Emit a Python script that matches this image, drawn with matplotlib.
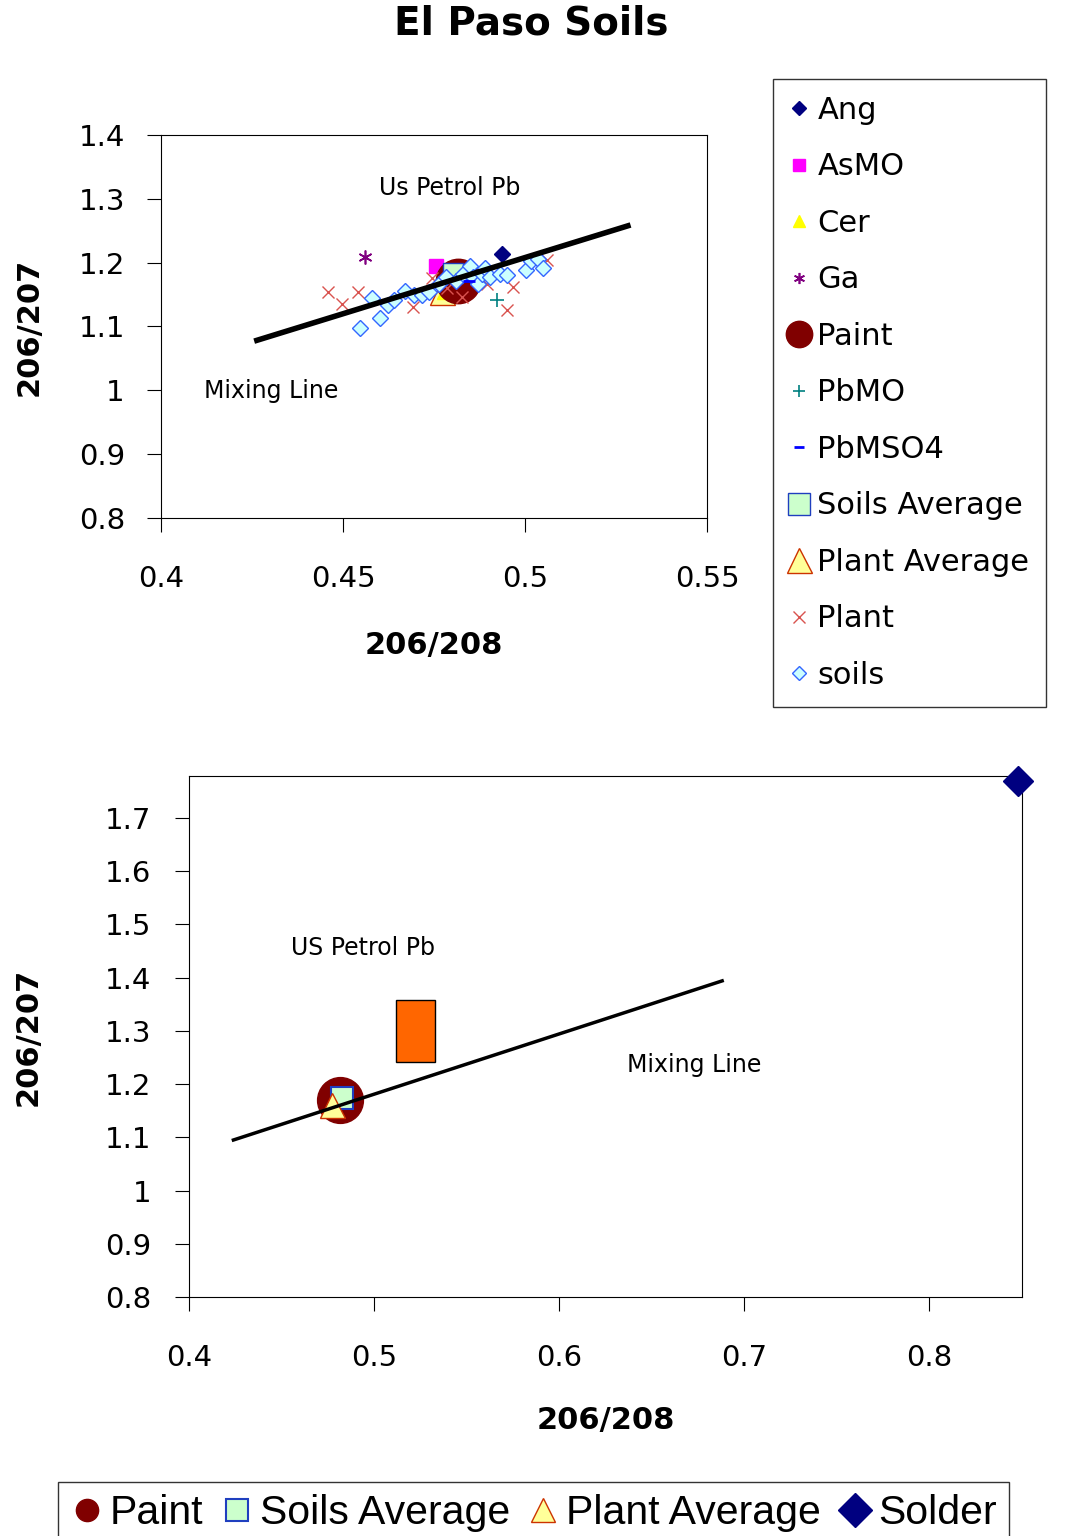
import matplotlib
matplotlib.use("Agg")
from matplotlib import pyplot as plt
from matplotlib.patches import Rectangle

plt.rcParams["font.family"] = ["DejaVu Sans"]

# ---- top chart data (206/208, 206/207) ----
soils_x = [0.4547, 0.458, 0.4603, 0.4623, 0.4639, 0.467, 0.4696, 0.4716, 0.4736,
           0.4763, 0.4783, 0.481, 0.483, 0.485, 0.4856, 0.487, 0.4883, 0.489,
           0.4903, 0.493, 0.495, 0.5003, 0.5016, 0.5036, 0.505]
soils_y = [1.098, 1.144, 1.113, 1.134, 1.141, 1.155, 1.149, 1.149, 1.154,
           1.166, 1.177, 1.171, 1.183, 1.194, 1.177, 1.166, 1.183, 1.191,
           1.177, 1.183, 1.180, 1.189, 1.203, 1.206, 1.191]
plant_x = [0.4459, 0.4497, 0.4541, 0.4692, 0.4745, 0.4827, 0.4785, 0.4967,
           0.4951, 0.506, 0.4896]
plant_y = [1.154, 1.135, 1.154, 1.130, 1.176, 1.146, 1.160, 1.162,
           1.126, 1.204, 1.166]
ang_x, ang_y = [0.4936], [1.214]
asmo_x, asmo_y = [0.4756], [1.194]
cer_x, cer_y = [0.4775], [1.152]
ga_x, ga_y = [0.456], [1.209]
paint_x, paint_y = [0.4816], [1.171]
pbmo_x, pbmo_y = [0.4923], [1.141]
pbmso4_x, pbmso4_y = [0.4845], [1.172]
soils_avg_x, soils_avg_y = [0.4802], [1.184]
plant_avg_x, plant_avg_y = [0.4772], [1.154]
mix_x = [0.4256, 0.529]
mix_y = [1.077, 1.259]

# ---- bottom chart data ----
paint2_x, paint2_y = [0.4816], [1.170]
soils_avg2_x, soils_avg2_y = [0.4825], [1.173]
plant_avg2_x, plant_avg2_y = [0.4773], [1.160]
solder_x, solder_y = [0.8476], [1.770]
mix2_x = [0.424, 0.688]
mix2_y = [1.095, 1.394]
box2_x = [0.512, 0.533]
box2_y = [1.241, 1.358]

PAINT = "#800000"
SOIL_FACE, SOIL_EDGE = "#ccffff", "#3366ff"
SAVG_FACE, SAVG_EDGE = "#ccffcc", "#1f3fbf"
PAVG_FACE, PAVG_EDGE = "#ffff99", "#cc3300"
PLANT = "#d9534f"
ASTERISK = (6, 2, 0)

fig = plt.figure(figsize=(10.72, 15.36), dpi=100)
fig.text(0.496, 0.985, "El Paso Soils", ha="center", va="center",
         fontsize=28, fontweight="bold")


def style_axes(ax, xpad, ypad):
    ax.tick_params(direction="out", length=10, width=0.8, top=False, right=False,
                   labelsize=21)
    ax.tick_params(axis="x", pad=xpad)
    ax.tick_params(axis="y", pad=ypad)
    for s in ax.spines.values():
        s.set_linewidth(0.8)


# ---- top chart ----
ax = fig.add_axes([0.1502, 0.6628, 0.5093, 0.2493])
ax.plot(asmo_x, asmo_y, "s", color="#ff00ff", ms=10, label="AsMO", zorder=2)
ax.plot(plant_avg_x, plant_avg_y, "^", mfc=PAVG_FACE, mec=PAVG_EDGE, ms=18,
        label="Plant Average", zorder=2)
ax.plot(cer_x, cer_y, "^", color="#ffff00", ms=8, label="Cer", zorder=2)
ax.plot(paint_x, paint_y, "o", color=PAINT, ms=32, label="Paint", zorder=3)
ax.plot(soils_avg_x, soils_avg_y, "s", mfc=SAVG_FACE, mec=SAVG_EDGE, ms=15,
        label="Soils Average", zorder=3)
ax.plot(plant_x, plant_y, "x", color=PLANT, ms=9, mew=1.0, label="Plant", zorder=4)
ax.plot(soils_x, soils_y, "D", mfc=SOIL_FACE, mec=SOIL_EDGE, ms=8, mew=1.0,
        label="soils", zorder=5)
ax.plot(ang_x, ang_y, "D", color="#000080", ms=8, label="Ang", zorder=5)
ax.plot(ga_x, ga_y, marker=ASTERISK, ls="none", color="#800080", ms=10, mew=1.2,
        label="Ga", zorder=5)
ax.plot(pbmo_x, pbmo_y, "+", color="#008080", ms=10, mew=1.2, label="PbMO", zorder=5)
ax.plot(pbmso4_x, pbmso4_y, "_", color="#0000ff", ms=8, mew=2, label="PbMSO4", zorder=5)
ax.plot(mix_x, mix_y, color="black", lw=4, solid_capstyle="butt", zorder=6)
ax.text(0.4794, 1.317, "Us Petrol Pb", ha="center", va="center", fontsize=17)
ax.text(0.4302, 0.999, "Mixing Line", ha="center", va="center", fontsize=17)
ax.set_xlim(0.4, 0.55)
ax.set_ylim(0.8, 1.4)
ax.set_xticks([0.4, 0.45, 0.5, 0.55])
ax.set_xticklabels(["0.4", "0.45", "0.5", "0.55"])
ax.set_yticks([0.8, 0.9, 1.0, 1.1, 1.2, 1.3, 1.4])
ax.set_yticklabels(["0.8", "0.9", "1", "1.1", "1.2", "1.3", "1.4"])
style_axes(ax, 24, 16)
ax.set_xlabel("206/208", fontsize=22, fontweight="bold")
ax.set_ylabel("206/207", fontsize=22, fontweight="bold")
ax.xaxis.set_label_coords(0.5, -0.295)
ax.yaxis.set_label_coords(-0.215, 0.5)

order = ["Ang", "AsMO", "Cer", "Ga", "Paint", "PbMO", "PbMSO4",
         "Soils Average", "Plant Average", "Plant", "soils"]
legend_sizes = {"Ang": 7, "AsMO": 8, "Cer": 8, "Ga": 8, "Paint": 19, "PbMO": 8,
                "PbMSO4": 7, "Soils Average": 16, "Plant Average": 18,
                "Plant": 8, "soils": 7}
handles, labels = ax.get_legend_handles_labels()
lookup = dict(zip(labels, handles))
leg = fig.legend([lookup[k] for k in order], order, loc="upper left",
                 bbox_to_anchor=(0.7211, 0.9486), fontsize=22, frameon=True,
                 fancybox=False, edgecolor="black", labelspacing=0.9,
                 handletextpad=0.3, handlelength=0.6, borderpad=0.55,
                 borderaxespad=0.0)
leg.get_frame().set_linewidth(1.0)
for h, k in zip(leg.legend_handles, order):
    h.set_markersize(legend_sizes[k])

# ---- bottom chart ----
ax2 = fig.add_axes([0.1763, 0.1556, 0.7771, 0.3392])
ax2.plot(paint2_x, paint2_y, "o", color=PAINT, ms=33, label="Paint", zorder=2)
ax2.plot(soils_avg2_x, soils_avg2_y, "s", mfc=SAVG_FACE, mec=SAVG_EDGE, ms=16,
         mew=1.5, label="Soils Average", zorder=3)
ax2.plot(plant_avg2_x, plant_avg2_y, "^", mfc=PAVG_FACE, mec=PAVG_EDGE, ms=18,
         label="Plant Average", zorder=4)
ax2.plot(solder_x, solder_y, "D", color="#000080", ms=15, label="Solder",
         zorder=4, clip_on=False)
ax2.plot(mix2_x, mix2_y, color="black", lw=2.5, zorder=5)
ax2.add_patch(Rectangle((box2_x[0], box2_y[0]), box2_x[1] - box2_x[0],
                        box2_y[1] - box2_y[0], facecolor="#ff6600",
                        edgecolor="black", lw=1.0, zorder=3))
ax2.text(0.494, 1.456, "US Petrol Pb", ha="center", va="center", fontsize=17)
ax2.text(0.673, 1.236, "Mixing Line", ha="center", va="center", fontsize=17)
ax2.set_xlim(0.4, 0.85)
ax2.set_ylim(0.8, 1.779)
ax2.set_xticks([0.4, 0.5, 0.6, 0.7, 0.8])
ax2.set_xticklabels(["0.4", "0.5", "0.6", "0.7", "0.8"])
ax2.set_yticks([0.8, 0.9, 1.0, 1.1, 1.2, 1.3, 1.4, 1.5, 1.6, 1.7])
ax2.set_yticklabels(["0.8", "0.9", "1", "1.1", "1.2", "1.3", "1.4", "1.5",
                     "1.6", "1.7"])
style_axes(ax2, 24, 17)
ax2.set_xlabel("206/208", fontsize=22, fontweight="bold")
ax2.set_ylabel("206/207", fontsize=22, fontweight="bold")
ax2.xaxis.set_label_coords(0.5, -0.209)
ax2.yaxis.set_label_coords(-0.176, 0.5)

h2, l2 = ax2.get_legend_handles_labels()
leg2 = fig.legend(h2, l2, loc="upper left", bbox_to_anchor=(0.054, 0.0352),
                  ncol=4, frameon=True, fancybox=False,
                  edgecolor="black", handletextpad=0.16, handlelength=0.8,
                  columnspacing=0.42, borderpad=0.3, borderaxespad=0.0,
                  prop={"family": "Liberation Sans", "size": 29.5})
leg2.get_frame().set_linewidth(1.0)
for h, s in zip(leg2.legend_handles, [16, 16, 17, 17]):
    h.set_markersize(s)

fig.savefig("out.png", dpi=100)
